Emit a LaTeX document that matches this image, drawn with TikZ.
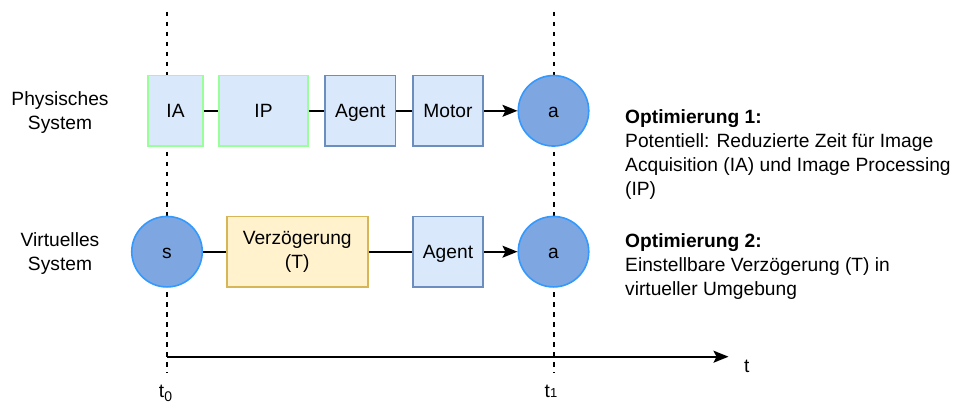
\documentclass[tikz,border=0pt]{standalone}
\usepackage{fontspec}
\setmainfont{Liberation Sans}
\usepackage{tikz}
\usetikzlibrary{arrows.meta,positioning,calc}
\definecolor{dlblue}{HTML}{DAE8FC}
\definecolor{dlstroke}{HTML}{6C8EBF}
\definecolor{dlgreen}{HTML}{99FF99}
\definecolor{dlyellow}{HTML}{FFF2CC}
\definecolor{dlgold}{HTML}{D6B656}
\definecolor{dlstate}{HTML}{7EA6E0}
\definecolor{dlring}{HTML}{3399FF}
\newcommand{\txt}{\fontsize{19.2}{24}\selectfont}
\tikzset{
  box/.style={draw=dlstroke, fill=dlblue, line width=1.6pt, align=center,
              inner sep=0pt, minimum height=70.5pt, font=\txt},
  one/.style={text height=17.7pt, text depth=3.8pt},
  acq/.style={box, one, draw=dlgreen},
  delay/.style={box, draw=dlgold, fill=dlyellow},
  state/.style={circle, one, draw=dlring, fill=dlstate, line width=1.6pt,
                inner sep=0pt, minimum size=70.5pt, font=\txt},
  link/.style={draw=black, line width=1.6pt},
  flow/.style={-{Stealth[length=15pt, width=12pt, inset=3pt]}, draw=black, line width=1.6pt},
  mark line/.style={draw=black, line width=1.6pt, dash pattern=on 4.5pt off 5.5pt},
  lbl/.style={font=\txt, align=center, inner sep=0pt},
  note/.style={font=\txt, align=left, inner sep=0pt, anchor=north west},
}

\begin{document}
\begin{tikzpicture}[x=1pt, y=-1pt]
  \useasboundingbox (0,0) rectangle (955,406);

  % time markers
  \coordinate (top0) at (166.7,12);
  \coordinate (bot0) at (166.7,373);
  \coordinate (top1) at (553.7,12);
  \coordinate (bot1) at (553.7,373);
  \draw[mark line] (top0) -- (bot0);
  \draw[mark line] (top1) -- (bot1);

  % physical system
  \node[lbl] (phys) at (60,112.5) {Physisches\\System};
  \node[acq, minimum width=54.5pt] (ia) at (175.5,110.8) {IA};
  \node[acq, minimum width=88.5pt] (ip) at (263.5,110.8) {IP};
  \node[box, one, minimum width=70.5pt] (agp) at (360.3,110.8) {Agent};
  \node[box, one, minimum width=70.5pt] (motor) at (448,110.8) {Motor};
  \node[state] (ap) at (553.5,110.8) {a};

  % virtual system
  \node[lbl] (virt) at (60,253.5) {Virtuelles\\System};
  \node[state] (sv) at (167,251.7) {s};
  \node[delay, minimum width=141pt] (delay) at (297.2,251.7) {Verzögerung\\(T)};
  \node[box, one, minimum width=70.5pt] (agv) at (448,251.7) {Agent};
  \node[state] (av) at (553.5,251.7) {a};

  \draw[link] (ia) -- (ip);
  \draw[link] (ip) -- (agp);
  \draw[link] (agp) -- (motor);
  \draw[flow] (motor) -- (ap);
  \draw[link] (sv) -- (delay);
  \draw[link] (delay) -- (agv);
  \draw[flow] (agv) -- (av);

  % time axis
  \coordinate (ax0) at (166.7,356.7);
  \coordinate (ax1) at (728.5,356.7);
  \draw[flow] (ax0) -- (ax1);
  \node[lbl, anchor=base] (tlbl) at (746.7,372) {t};
  \node[lbl, anchor=base] (t0) at (165.5,397)
    {t\raisebox{-4.5pt}{\fontsize{14}{14}\selectfont 0}};
  \node[lbl, anchor=base] (t1) at (551,397)
    {t\fontsize{13}{13}\selectfont 1};

  % notes
  \node[note] (opt1) at (625,109.5)
    {\textbf{Optimierung 1:}\\Potentiell: Reduzierte Zeit für Image\\Acquisition (IA) und Image Processing\\(IP)};
  \node[note] (opt2) at (625,233)
    {\textbf{Optimierung 2:}\\Einstellbare Verzögerung (T) in\\virtueller Umgebung};
\end{tikzpicture}
\end{document}
